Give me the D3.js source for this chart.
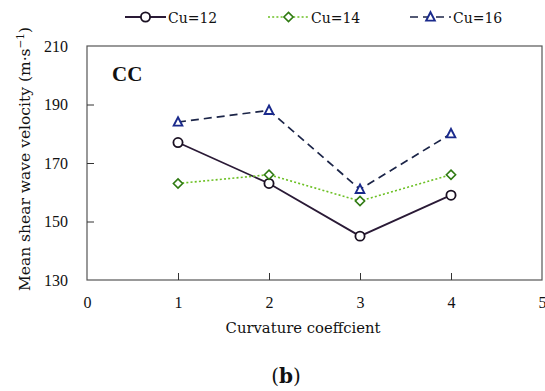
<!DOCTYPE html>
<html>
<head>
<meta charset="utf-8">
<script src="https://cdn.jsdelivr.net/npm/d3@7"></script>
<style>
  html, body { margin: 0; padding: 0; background: #fff; }
  svg { display: block; }
  text { font-family: "DejaVu Serif", "Liberation Serif", serif; }
</style>
</head>
<body>
<svg id="chart" width="545" height="391"></svg>
<script>
// Curvature coefficient on the x axis
const curvature = [1, 2, 3, 4];
// Mean shear wave velocity (m·s⁻¹) for each Cu level
const cu12 = [177, 163, 145, 159];
const cu14 = [163, 166, 157, 166];
const cu16 = [184, 188, 161, 180];
const seriesNames = ["Cu=12", "Cu=14", "Cu=16"];
const xTicks = [0, 1, 2, 3, 4, 5];
const yTicks = [130, 150, 170, 190, 210];

const svg = d3.select("#chart");
const m = { left: 87, right: 542, top: 46, bottom: 280 };

const x = d3.scaleLinear().domain([0, 5]).range([m.left, m.right]);
const y = d3.scaleLinear().domain([130, 210]).range([m.bottom, m.top]);

const series = [
  { name: seriesNames[0], values: cu12, line: "#2a1a36", marker: "circle", mstroke: "#1a1022", dash: null, width: 1.8 },
  { name: seriesNames[1], values: cu14, line: "#6cc024", marker: "diamond", mstroke: "#2f7a12", dash: "2,2.2", width: 1.6 },
  { name: seriesNames[2], values: cu16, line: "#1c2548", marker: "triangle", mstroke: "#1a2a8c", dash: "8,5", width: 1.7 }
];

// Plot frame
svg.append("rect")
  .attr("x", m.left).attr("y", m.top)
  .attr("width", m.right - m.left).attr("height", m.bottom - m.top)
  .attr("fill", "none").attr("stroke", "#555").attr("stroke-width", 1.2);

// Axes with inward ticks
const xAxis = svg.append("g").attr("transform", `translate(0,${m.bottom})`)
  .call(d3.axisBottom(x).tickValues(xTicks).tickFormat(d3.format("d")).tickSize(-7).tickPadding(17));
const yAxis = svg.append("g").attr("transform", `translate(${m.left},0)`)
  .call(d3.axisLeft(y).tickValues(yTicks).tickFormat(d3.format("d")).tickSize(-7).tickPadding(19));
[xAxis, yAxis].forEach(g => {
  g.select(".domain").remove();
  g.selectAll(".tick line").attr("stroke", "#333").attr("stroke-width", 1);
  g.selectAll(".tick text").attr("font-size", 16).attr("fill", "#111")
    .style("font-family", '"Liberation Serif", serif');
});
xAxis.selectAll(".tick").filter(d => d === 0 || d === 5).select("line").remove();
yAxis.selectAll(".tick").filter(d => d === 130 || d === 210).select("line").remove();

// Axis titles
svg.append("text")
  .attr("x", 303).attr("y", 333)
  .attr("text-anchor", "middle").attr("font-size", 14.8).attr("fill", "#111")
  .text("Curvature coeffcient");

const yl = svg.append("text")
  .attr("transform", `translate(30,159) rotate(-90)`)
  .attr("text-anchor", "middle").attr("font-size", 15.5).attr("fill", "#111");
yl.append("tspan").text("Mean shear wave velocity (m·s");
yl.append("tspan").attr("dy", -6).attr("font-size", 10.5).text("−1");
yl.append("tspan").attr("dy", 6).text(")");

svg.append("text")
  .attr("x", 112).attr("y", 81)
  .attr("font-size", 21).attr("font-weight", "bold").attr("fill", "#111")
  .style("font-family", '"Liberation Serif", serif')
  .text("CC");

svg.append("text")
  .attr("x", 286).attr("y", 383)
  .attr("text-anchor", "middle").attr("font-size", 20).attr("fill", "#111")
  .html('(<tspan font-weight="bold">b</tspan>)');

// Marker drawing
function drawMarker(g, type, cx, cy, stroke) {
  if (type === "circle") {
    g.append("circle").attr("cx", cx).attr("cy", cy).attr("r", 4.6)
      .attr("fill", "#fff").attr("stroke", stroke).attr("stroke-width", 1.8);
  } else if (type === "diamond") {
    const s = 4.6;
    g.append("path")
      .attr("d", `M${cx},${cy - s}L${cx + s},${cy}L${cx},${cy + s}L${cx - s},${cy}Z`)
      .attr("fill", "#fff").attr("stroke", stroke).attr("stroke-width", 1.6);
  } else {
    const s = 4.8;
    g.append("path")
      .attr("d", `M${cx},${cy - s}L${cx + s * 0.9},${cy + s * 0.75}L${cx - s * 0.9},${cy + s * 0.75}Z`)
      .attr("fill", "#fff").attr("stroke", stroke).attr("stroke-width", 1.9);
  }
}

const line = d3.line().x((d, i) => x(curvature[i])).y(d => y(d));

series.forEach(s => {
  const g = svg.append("g");
  g.append("path").datum(s.values)
    .attr("d", line).attr("fill", "none")
    .attr("stroke", s.line).attr("stroke-width", s.width)
    .attr("stroke-dasharray", s.dash);
  s.values.forEach((v, i) => drawMarker(g, s.marker, x(curvature[i]), y(v), s.mstroke));
});

// Legend
const legendX = [125, 268, 410];
series.forEach((s, i) => {
  const g = svg.append("g");
  const lx = legendX[i], ly = 17;
  g.append("line").attr("x1", lx).attr("x2", lx + 41).attr("y1", ly).attr("y2", ly)
    .attr("stroke", s.line).attr("stroke-width", s.width)
    .attr("stroke-dasharray", s.dash);
  drawMarker(g, s.marker, lx + 20.5, ly, s.mstroke);
  g.append("text").attr("x", lx + 43).attr("y", ly + 6)
    .attr("font-size", 14).attr("fill", "#111").text(s.name);
});
</script>
</body>
</html>
